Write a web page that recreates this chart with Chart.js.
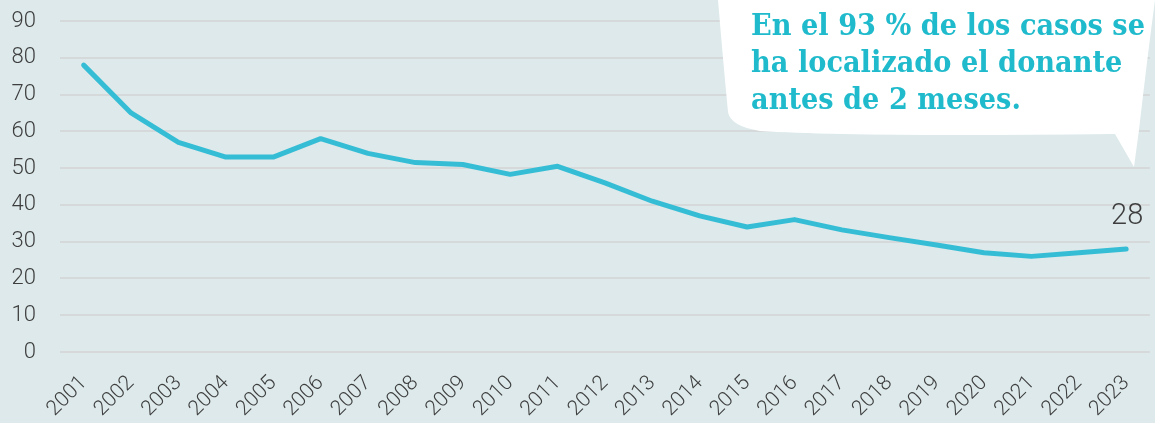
<!DOCTYPE html>
<html>
<head>
<meta charset="utf-8">
<script src="https://cdn.jsdelivr.net/npm/chart.js@4.4.1/dist/chart.umd.min.js"></script>
<style>
  html, body { margin: 0; padding: 0; background: #dde9ea; overflow: hidden; }
  canvas { display: block; }
</style>
</head>
<body>
<canvas id="chart" width="1155" height="423"></canvas>
<script>
// years on the x axis
var years = ['2001', '2002', '2003', '2004', '2005', '2006', '2007', '2008', '2009', '2010', '2011', '2012',
             '2013', '2014', '2015', '2016', '2017', '2018', '2019', '2020', '2021', '2022', '2023'];
// median months until the donor is found
var months = [78, 65, 57, 53, 53, 58, 54, 51.5, 51, 48.3, 50.5, 46, 41, 37, 34, 36, 33.2, 31.1, 29.1, 27, 26, 27, 28];
// y axis range
var yMin = 0;
var yMax = 90;
var yStep = 10;
// text of the callout bubble
var calloutLines = ['En el 93 % de los casos se', 'ha localizado el donante', 'antes de 2 meses.'];

var lineColor = '#36bdd6';
var textColor = '#3e3e3e';

// value printed above the last point
var lastValuePlugin = {
	id: 'lastValue',
	afterDatasetsDraw: function(chart) {
		var meta = chart.getDatasetMeta(0);
		var pt = meta.data[meta.data.length - 1];
		var ctx = chart.ctx;
		ctx.save();
		ctx.font = '300 29px Roboto';
		ctx.fillStyle = textColor;
		ctx.textAlign = 'center';
		ctx.textBaseline = 'alphabetic';
		ctx.fillText(String(months[months.length - 1]), pt.x + 1, pt.y - 25);
		ctx.restore();
	}
};

// white speech bubble in the top right corner
var calloutPlugin = {
	id: 'callout',
	afterDraw: function(chart) {
		var ctx = chart.ctx;
		var w = chart.width;
		ctx.save();
		ctx.fillStyle = '#ffffff';
		ctx.beginPath();
		ctx.moveTo(w - 437, 0);
		ctx.quadraticCurveTo(w - 432, 60, w - 427, 112);
		ctx.quadraticCurveTo(w - 425, 126, w - 395, 131);
		ctx.quadraticCurveTo(w - 300, 137, w - 40, 134);
		ctx.lineTo(w - 21, 167);
		ctx.lineTo(w - 16, 130);
		ctx.quadraticCurveTo(w - 8, 60, w, 0);
		ctx.closePath();
		ctx.fill();

		// 30px bold serif, squeezed so each line keeps the width it has in the picture
		ctx.font = 'bold 30px "DejaVu Serif"';
		var squeeze = 394 / ctx.measureText(calloutLines[0]).width;
		ctx.fillStyle = '#1fbacb';
		ctx.textAlign = 'left';
		ctx.textBaseline = 'alphabetic';
		ctx.translate(w - 404, 0);
		ctx.scale(squeeze, 1);
		for (var i = 0; i < calloutLines.length; i++) {
			ctx.fillText(calloutLines[i], 0, 35 + i * 37);
		}
		ctx.restore();
	}
};

var chart = new Chart(document.getElementById('chart'), {
	type: 'line',
	data: {
		labels: years,
		datasets: [{
			data: months,
			borderColor: lineColor,
			borderWidth: 5,
			borderCapStyle: 'round',
			borderJoinStyle: 'round',
			pointRadius: 0,
			pointHoverRadius: 0,
			tension: 0,
			fill: false
		}]
	},
	options: {
		responsive: false,
		animation: false,
		events: [],
		layout: { padding: { top: 21, right: 0, left: 0, bottom: 0 } },
		plugins: {
			legend: { display: false },
			tooltip: { enabled: false }
		},
		scales: {
			x: {
				offset: true,
				grid: { display: false },
				border: { display: false },
				ticks: {
					autoSkip: false,
					minRotation: 45,
					maxRotation: 45,
					padding: 11,
					color: textColor,
					font: { family: 'Roboto', size: 21, weight: '300' }
				},
				afterFit: function(scale) { scale.height = 71; }
			},
			y: {
				min: yMin,
				max: yMax,
				// invisible ticks push the labels away from the grid
				grid: { color: '#d6d9da', lineWidth: 2, drawTicks: true, tickLength: 24, tickColor: 'rgba(0,0,0,0)' },
				border: { display: false },
				ticks: {
					stepSize: yStep,
					padding: 0,
					color: textColor,
					font: { family: 'Roboto', size: 22, weight: '300' }
				},
				afterFit: function(scale) { scale.width = 60; }
			}
		}
	},
	plugins: [lastValuePlugin, calloutPlugin]
});
</script>
</body>
</html>
